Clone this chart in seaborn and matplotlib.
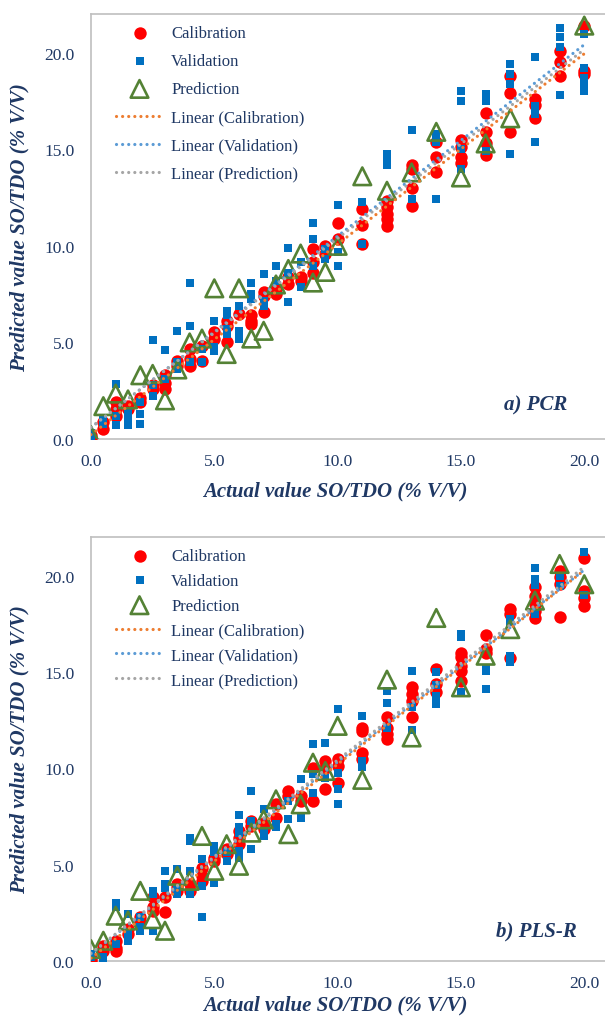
import numpy as np
import pandas as pd
import matplotlib
matplotlib.use("Agg")
import matplotlib.pyplot as plt
import seaborn as sns

# ---------------- data ----------------
pcr_cal_x = [0, 0, 0.5, 0.5, 1, 1, 1, 1.5, 1.5, 2, 2, 2.5, 2.5, 3, 3, 3, 3.5, 3.5,
             4, 4, 4, 4.5, 4.5, 5, 5, 5.5, 5.5, 5.5, 6, 6.5, 6.5, 6.5, 7, 7, 7,
             7.5, 7.5, 8, 8, 8.5, 8.5, 9, 9, 9, 9.5, 9.5, 10, 10, 11, 11, 11,
             12, 12, 12, 12, 12, 13, 13, 13, 13, 14, 14, 14, 15, 15, 15, 15,
             16, 16, 16, 16, 17, 17, 17, 18, 18, 18, 19, 19, 19, 20, 20, 20]
pcr_cal_y = [0.05, 0.2, 0.5, 0.87, 1.2, 1.55, 1.9, 1.55, 1.7, 1.9, 2.1, 2.6, 2.8, 2.6, 2.9, 3.3, 3.8, 4.06,
             3.8, 4.15, 4.66, 4.06, 4.83, 5.2, 5.52, 5.0, 5.87, 6.1, 6.47, 5.95, 6.13, 6.4, 6.56, 7.4, 7.6,
             7.5, 7.76, 8.0, 8.37, 8.2, 8.4, 8.6, 9.14, 9.83, 9.57, 10.0, 10.35, 11.2, 10.1, 11.1, 11.9,
             11.04, 11.4, 11.65, 12.0, 12.3, 12.08, 13.0, 13.97, 14.2, 13.8, 14.6, 15.35, 14.3, 14.6, 15.1, 15.5,
             14.7, 15.3, 15.9, 16.9, 15.9, 17.9, 18.8, 16.6, 17.3, 17.6, 18.8, 19.5, 20.1, 18.9, 19.06, 21.4]

pcr_val_x = [0, 0, 0.5, 0.5, 1, 1, 1, 1.5, 1.5, 1.5, 2, 2, 2, 2.5, 2.5, 2.5, 3, 3,
             3.5, 3.5, 3.5, 4, 4, 4, 4.5, 4.5, 5, 5, 5, 5.5, 5.5, 5.5, 5.5, 6, 6, 6,
             6.5, 6.5, 6.5, 7, 7, 7, 7.5, 7.5, 8, 8, 8, 8.5, 8.5, 9, 9, 9, 9.5, 9.5,
             10, 10, 10, 11, 11, 12, 12, 12, 13, 13, 14, 14, 14, 15, 15, 15, 15,
             16, 16, 16, 17, 17, 17, 17, 18, 18, 18, 18, 19, 19, 19, 19, 20, 20, 20, 20, 20]
pcr_val_y = [0.1, 0.3, 0.8, 1.1, 0.7, 1.2, 2.85, 0.7, 1.05, 1.4, 0.8, 1.3, 1.9, 2.25, 2.8, 5.15, 3.1, 4.6,
             3.6, 3.97, 5.6, 3.97, 5.87, 8.1, 3.97, 4.66, 4.57, 4.75, 6.13, 5.44, 5.7, 6.4, 6.64, 5.2, 5.6, 6.9,
             7.25, 7.5, 8.1, 6.9, 7.16, 8.54, 8.2, 8.97, 7.07, 8.6, 9.9, 7.85, 9.14, 8.97, 10.35, 11.2, 9.3, 9.83,
             8.97, 9.66, 12.1, 10.1, 12.25, 14.2, 14.5, 14.75, 12.4, 16.0, 12.4, 15.4, 15.8, 13.97, 15.0, 17.5, 18.0,
             14.9, 17.5, 17.85, 14.75, 18.4, 18.9, 19.4, 15.35, 16.8, 17.25, 19.75, 17.8, 20.3, 20.8, 21.3,
             18.0, 18.4, 18.7, 19.2, 20.95]

pcr_pred_x = [0, 0.5, 1, 1.5, 2, 2.5, 3, 3.5, 4, 4.5, 5, 5.5, 6, 6.5, 7, 7.5, 8, 8.5, 9, 9.5,
              10, 11, 12, 13, 14, 15, 16, 17, 20]
pcr_pred_y = [0.2, 1.7, 2.35, 2.05, 3.3, 3.37, 2.0, 3.6, 5.0, 5.2, 7.8, 4.4, 7.8, 5.2, 5.6, 8.0, 8.8, 9.6, 8.1, 8.65,
              10.0, 13.6, 12.85, 13.8, 15.9, 13.54, 15.3, 16.6, 21.4]

pls_cal_x = [0, 0, 0.5, 0.5, 1, 1, 1, 1.5, 1.5, 2, 2, 2.5, 2.5, 2.5, 3, 3, 3.5, 3.5, 3.5,
             4, 4, 4.5, 4.5, 4.5, 5, 5, 5.5, 5.5, 6, 6, 6, 6.5, 6.5, 7, 7, 7.5, 7.5, 8, 8,
             8.5, 8.5, 9, 9, 9.5, 9.5, 9.5, 10, 10, 10, 11, 11, 11, 11, 12, 12, 12, 12,
             13, 13, 13, 13, 14, 14, 14, 15, 15, 15, 15, 15, 16, 16, 16, 17, 17, 17,
             18, 18, 18, 18, 18, 19, 19, 19, 19, 20, 20, 20, 20]
pls_cal_y = [0.0, 0.15, 0.53, 0.8, 0.53, 0.7, 1.05, 1.4, 1.65, 2.09, 2.26, 2.6, 2.78, 3.3, 2.52, 3.3, 3.64, 3.81, 4.0,
             3.64, 3.99, 4.16, 4.42, 4.85, 5.2, 5.37, 5.54, 5.8, 6.06, 6.4, 6.75, 7.01, 7.27, 6.84, 7.18, 7.44, 8.13, 8.56, 8.82,
             8.3, 8.56, 8.3, 10.03, 8.91, 10.03, 10.38, 9.25, 10.12, 10.46, 10.5, 10.8, 11.95, 12.1, 11.5, 11.8, 12.1, 12.65,
             12.65, 13.5, 13.85, 14.2, 13.94, 14.37, 15.15, 14.54, 15.06, 15.3, 15.75, 16.0, 16.0, 16.2, 16.9, 15.7, 18.0, 18.26,
             17.8, 18.17, 18.5, 18.95, 19.38, 17.83, 19.55, 19.9, 20.24, 18.43, 18.86, 19.2, 20.93]

pls_val_x = [0, 0, 0.5, 0.5, 1, 1, 1, 1.5, 1.5, 1.5, 2, 2, 2, 2.5, 2.5, 2.5, 3, 3, 3,
             3.5, 3.5, 3.5, 4, 4, 4, 4, 4.5, 4.5, 4.5, 5, 5, 5, 5.5, 5.5, 6, 6, 6, 6, 6,
             6.5, 6.5, 6.5, 7, 7, 7, 7.5, 7.5, 8, 8, 8.5, 8.5, 9, 9, 9, 9.5, 9.5,
             10, 10, 10, 10, 11, 11, 11, 12, 12, 12, 13, 13, 13, 14, 14, 14, 14,
             15, 15, 15, 16, 16, 16, 17, 17, 17, 17, 18, 18, 18, 18, 19, 19, 20, 20]
pls_val_y = [0.2, 0.36, 0.0, 0.2, 0.88, 2.78, 3.0, 1.05, 1.4, 2.43, 1.57, 1.74, 2.26, 1.57, 3.47, 3.64, 3.81, 3.99, 4.68,
             3.47, 3.81, 4.76, 3.47, 4.68, 6.23, 6.4, 2.26, 3.9, 5.28, 4.07, 5.63, 5.97, 5.2, 5.63, 5.37, 5.71, 6.66, 6.93, 7.6,
             5.8, 7.27, 8.8, 6.49, 6.66, 7.87, 6.93, 7.1, 7.35, 8.3, 7.44, 9.43, 8.74, 9.68, 11.24, 9.5, 11.33,
             8.13, 8.91, 9.77, 13.05, 10.05, 10.4, 12.7, 12.1, 13.4, 14.03, 12.0, 13.2, 15.06, 13.34, 13.77, 14.3, 14.97,
             13.94, 16.8, 16.96, 14.1, 15.06, 15.2, 15.5, 15.84, 17.57, 17.74, 18.0, 19.5, 19.8, 20.4, 19.47, 20.0, 19.0, 21.2]

pls_pred_x = [0, 0.5, 1, 1.5, 2, 2.5, 3, 3.5, 4, 4.5, 5, 5.5, 6, 6.5, 7, 7.5, 8, 8.5, 9, 9.5,
              10, 11, 12, 13, 14, 15, 16, 17, 18, 19, 20]
pls_pred_y = [0.62, 1.05, 2.35, 2.1, 3.64, 2.17, 1.57, 4.42, 4.16, 6.49, 4.68, 6.06, 4.94, 6.66, 7.35, 8.39, 6.58, 8.13,
              10.29, 9.86, 12.2, 9.4, 14.6, 11.6, 17.8, 14.2, 15.84, 17.22, 18.7, 20.6, 19.55]

x_ticks = [0, 5, 10, 15, 20]
y_ticks = [0, 5, 10, 15, 20]
panel_titles = ["a) PCR", "b) PLS-R"]
series_names = ["Calibration", "Validation", "Prediction"]
x_label = "Actual value SO/TDO (% V/V)"
y_label = "Predicted value SO/TDO (% V/V)"

# ---------------- style ----------------
sns.set_style("white")
plt.rcParams["font.family"] = ["Liberation Serif", "DejaVu Serif"]

NAVY = "#1F3864"
SPINE = "#BFBFBF"
RED = "#FF0000"
BLUE = "#0070C0"
GREEN = "#548235"
TREND = ["#ED7D31", "#5B9BD5", "#A5A5A5"]

W, H = 605, 1020
fig = plt.figure(figsize=(W / 100, H / 100), dpi=100)

def frac_box(left, top, right, bottom):
    return [left / W, 1 - bottom / H, (right - left) / W, (bottom - top) / H]

panels = [
    dict(box=frac_box(91, 15, 605, 440), cal=(pcr_cal_x, pcr_cal_y), val=(pcr_val_x, pcr_val_y),
         pred=(pcr_pred_x, pcr_pred_y), title=panel_titles[0], tpos=(0.926, 0.082),
         lspace=0.73, ltop=0.99, xlab_y=-0.098),
    dict(box=frac_box(91, 538, 605, 962), cal=(pls_cal_x, pls_cal_y), val=(pls_val_x, pls_val_y),
         pred=(pls_pred_x, pls_pred_y), title=panel_titles[1], tpos=(0.945, 0.071),
         lspace=0.53, ltop=0.99, xlab_y=-0.079),
]

for p in panels:
    ax = fig.add_axes(p["box"])
    cal = pd.DataFrame({"x": p["cal"][0], "y": p["cal"][1]})
    val = pd.DataFrame({"x": p["val"][0], "y": p["val"][1]})
    pred = pd.DataFrame({"x": p["pred"][0], "y": p["pred"][1]})

    sns.scatterplot(data=cal, x="x", y="y", ax=ax, marker="o", s=80, color=RED,
                    edgecolor=RED, linewidth=0, label=series_names[0], zorder=3)
    sns.scatterplot(data=val, x="x", y="y", ax=ax, marker="s", s=38, color=BLUE,
                    edgecolor=BLUE, linewidth=0, label=series_names[1], zorder=3)
    sns.scatterplot(data=pred, x="x", y="y", ax=ax, marker="^", s=160, color=GREEN,
                    facecolor="none", edgecolor=GREEN, linewidth=1.9, label=series_names[2], zorder=4)
    for df, name, col in zip([cal, val, pred], series_names, TREND):
        sns.regplot(data=df, x="x", y="y", ax=ax, scatter=False, ci=None, truncate=True,
                    color=col, label=f"Linear ({name})",
                    line_kws=dict(linestyle=(0, (0.01, 1.9)), linewidth=2.3, zorder=5,
                                  dash_capstyle="round"))

    ax.set_xlim(0, 20.84)
    ax.set_ylim(0, 22)
    ax.set_xticks(x_ticks)
    ax.set_yticks(y_ticks)
    ax.set_xticklabels([f"{v:.1f}" for v in x_ticks])
    ax.set_yticklabels([f"{v:.1f}" for v in y_ticks])
    ax.tick_params(axis="both", direction="in", length=4, width=1, color=SPINE,
                   labelcolor=NAVY, labelsize=12.5)
    ax.tick_params(axis="y", pad=12)
    ax.tick_params(axis="x", pad=10)
    for side in ["left", "bottom", "top"]:
        ax.spines[side].set_color(SPINE)
        ax.spines[side].set_linewidth(1.2)
    ax.spines["right"].set_visible(False)

    ax.set_xlabel(x_label, fontsize=15, fontweight="bold", fontstyle="italic", color=NAVY)
    ax.xaxis.set_label_coords(0.475, p["xlab_y"])
    ax.set_ylabel(y_label, fontsize=15, fontweight="bold", fontstyle="italic", color=NAVY)
    ax.yaxis.set_label_coords(-0.12, 0.5)

    ax.text(p["tpos"][0], p["tpos"][1], p["title"], transform=ax.transAxes, ha="right",
            va="center", fontsize=15, fontweight="bold", fontstyle="italic", color=NAVY)

    leg = ax.legend(loc="upper left", bbox_to_anchor=(0.036, p["ltop"]), frameon=False,
                    fontsize=12, handlelength=2.8, handletextpad=0.5,
                    labelspacing=p["lspace"], borderaxespad=0)
    for t in leg.get_texts():
        t.set_color(NAVY)

fig.savefig("out.png", dpi=100)
